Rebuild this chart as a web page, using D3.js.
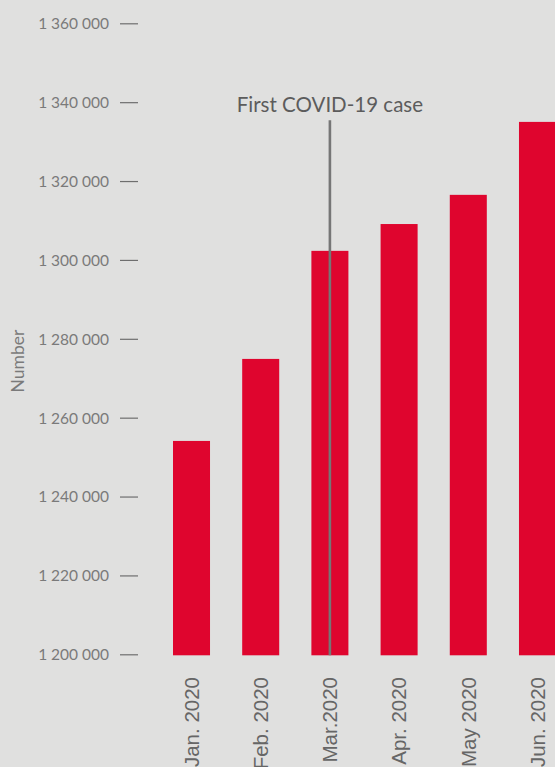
<!DOCTYPE html>
<html>
<head>
<meta charset="utf-8">
<script src="https://cdn.jsdelivr.net/npm/d3@7"></script>
<style>
  html, body { margin: 0; padding: 0; background: #e0e0df; overflow: hidden; }
  svg { display: block; }
</style>
</head>
<body>
<svg id="chart" width="555" height="767"></svg>
<script>
const months = ["Jan. 2020", "Feb. 2020", "Mar.2020", "Apr. 2020", "May 2020", "Jun. 2020"];
const values = [1254100, 1274900, 1302300, 1309100, 1316500, 1335000];
const yTicks = [1200000, 1220000, 1240000, 1260000, 1280000, 1300000, 1320000, 1340000, 1360000];
const eventMonth = "Mar.2020";
const eventLabel = "First COVID-19 case";
const yTitle = "Number";

const svg = d3.select("#chart");
svg.append("rect").attr("width", 555).attr("height", 767).attr("fill", "#e0e0df");

const x = d3.scaleBand().domain(months).range([173, 556]).paddingInner(0.465).paddingOuter(0);
const y = d3.scaleLinear().domain([1200000, 1360000]).range([654.3, 23.3]);

const fmt = v => d3.format(",")(v).replace(/,/g, " ");

// y axis
const yAxis = d3.axisRight(y).tickValues(yTicks).tickSize(18).tickPadding(0).tickFormat("");
const gy = svg.append("g").attr("transform", "translate(120,0)").call(yAxis);
gy.select(".domain").remove();
gy.selectAll(".tick line").attr("stroke", "#6e6e6e").attr("stroke-width", 1.2);
gy.selectAll(".tick").append("text")
  .attr("x", -11).attr("dy", "0.35em")
  .attr("text-anchor", "end")
  .attr("fill", "#7a7a7a")
  .style("font-family", "Lato, 'Open Sans', sans-serif")
  .style("font-size", "15.5px")
  .text(d => fmt(d));

// y title
svg.append("text")
  .attr("transform", "translate(24,361) rotate(-90)")
  .attr("text-anchor", "middle")
  .attr("fill", "#7a7a7a")
  .style("font-family", "Lato, 'Open Sans', sans-serif")
  .style("font-size", "17.5px")
  .text(yTitle);

// bars
svg.append("g").selectAll("rect").data(months).join("rect")
  .attr("x", d => x(d))
  .attr("width", x.bandwidth())
  .attr("y", (d, i) => y(values[i]))
  .attr("height", (d, i) => y(1200000) - y(values[i]) + 1)
  .attr("fill", "#df052e");

// x labels
const xAxis = d3.axisBottom(x).tickSize(0).tickPadding(0);
const gx = svg.append("g").attr("transform", "translate(0,655)").call(xAxis);
gx.select(".domain").remove();
gx.selectAll(".tick text")
  .attr("transform", "rotate(-90)")
  .attr("x", -22).attr("y", 0).attr("dy", "0.36em")
  .attr("text-anchor", "end")
  .attr("fill", "#666")
  .style("font-family", "'Liberation Sans', Arial, sans-serif")
  .style("font-size", "20.5px");

// event line
const ex = x(eventMonth) + x.bandwidth() / 2;
svg.append("line")
  .attr("x1", ex).attr("x2", ex)
  .attr("y1", y(1335400)).attr("y2", y(1200000) + 1)
  .attr("stroke", "#767676").attr("stroke-width", 2.6);
svg.append("text")
  .attr("x", ex).attr("y", 112)
  .attr("text-anchor", "middle")
  .attr("fill", "#5c5c5c")
  .style("font-family", "Lato, 'Open Sans', sans-serif")
  .style("font-size", "20.5px")
  .text(eventLabel);
</script>
</body>
</html>
